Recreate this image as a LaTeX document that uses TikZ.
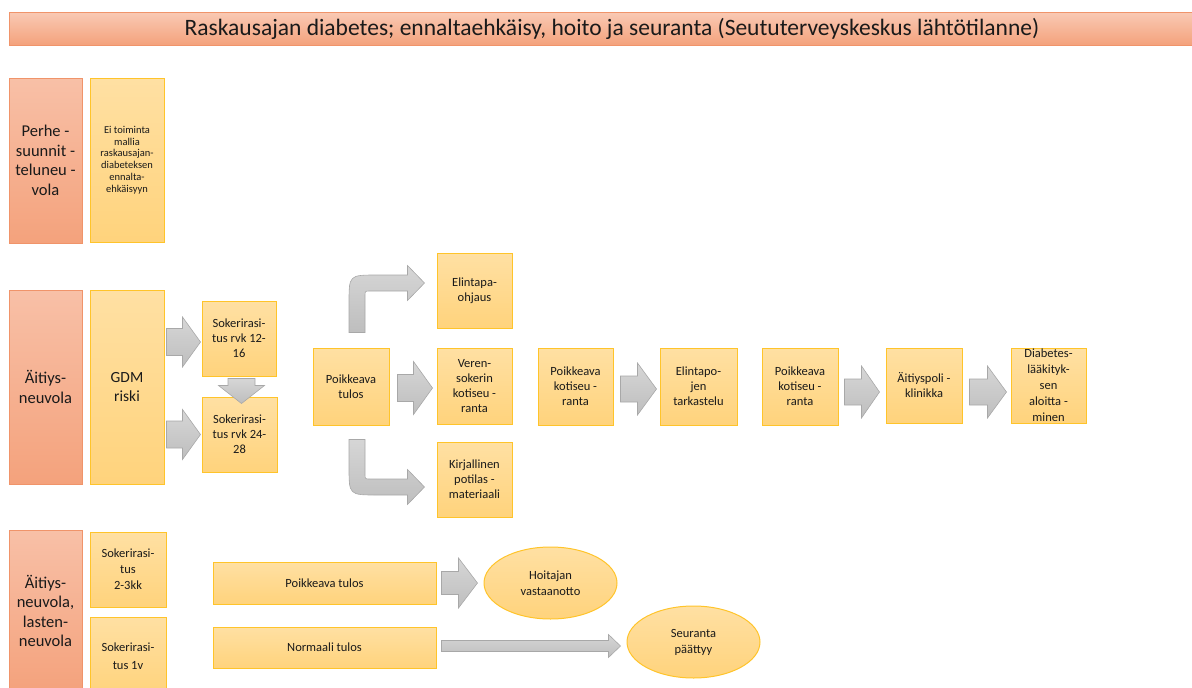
\documentclass[tikz,border=0pt]{standalone}
\usepackage{fontspec}
\setmainfont{Carlito}
\usetikzlibrary{calc,shapes.geometric}

\definecolor{redtop}{HTML}{F8C0A7}
\definecolor{redbot}{HTML}{F4A27C}
\definecolor{redline}{HTML}{F0946A}
\definecolor{ytop}{HTML}{FFE0A3}
\definecolor{ybot}{HTML}{FFD37C}
\definecolor{yline}{HTML}{FFC42A}
\definecolor{arrtop}{HTML}{D6D6D6}
\definecolor{arrbot}{HTML}{BEBEBE}
\definecolor{arrline}{HTML}{A8A8A8}
\definecolor{ink}{HTML}{1A1A1A}

% horizontal block arrow between two nodes:
% #1 from, #2 to, #3 left gap, #4 right gap, #5 vertical shift,
% #6 half shaft, #7 half head, #8 head length
\newcommand\flowarrow[8]{%
  \path[blockarrow] let \p1=(#1.east), \p2=(#2.west), \n1={\y2+(#5)} in
    (\x1+#3,\n1+#6) -- (\x2-#4-#8,\n1+#6) -- (\x2-#4-#8,\n1+#7) -- (\x2-#4,\n1)
    -- (\x2-#4-#8,\n1-#7) -- (\x2-#4-#8,\n1-#6) -- (\x1+#3,\n1-#6) -- cycle;}

\begin{document}
\begin{tikzpicture}[x=1pt,y=-1pt,
  box/.style={rectangle, inner sep=1pt, align=center, line width=1pt, text=ink},
  sz/.style 2 args={minimum width=#1pt, minimum height=#2pt},
  redbox/.style={box, draw=redline, top color=redtop, bottom color=redbot,
    font=\fontsize{16.5}{19.5}\selectfont},
  ybox/.style={box, draw=yline, top color=ytop, bottom color=ybot,
    font=\fontsize{12.5}{15}\selectfont},
  yoval/.style={ellipse, inner sep=0pt, align=center, line width=1pt, text=ink,
    draw=yline, top color=ytop, bottom color=ybot, minimum width=133pt,
    minimum height=72pt, font=\fontsize{12.5}{16}\selectfont},
  blockarrow/.style={draw=arrline, line width=0.6pt, top color=arrtop, bottom color=arrbot}]
\useasboundingbox (0,0) rectangle (1192,688);

% title bar
\node[box, draw=redline, top color=redtop!85!white, bottom color=redbot, sz={1206}{33},
  font=\fontsize{23.5}{26}\selectfont] (title) at (612,28.5)
  {Raskausajan diabetes; ennaltaehkäisy, hoito ja seuranta (Seututerveyskeskus lähtötilanne)};

% family planning row
\node[redbox, sz={73}{165}] (r1) at (45.5,160.5) {Perhe -\\suunnit -\\teluneu -\\vola};
\node[ybox, sz={74}{164}, font=\fontsize{10.5}{11.7}\selectfont] (y1) at (127,160)
  {Ei toiminta\\mallia\\raskausajan-\\diabeteksen\\ennalta-\\ehkäisyyn};

% maternity clinic row
\node[redbox, sz={73}{194}] (r2) at (45.5,387) {Äitiys-\\neuvola};
\node[ybox, sz={74}{194}, font=\fontsize{15.5}{19.5}\selectfont] (gdm) at (127,387) {GDM\\riski};
\node[ybox, sz={74}{75}] (s1) at (239,338.5) {Sokerirasi-\\tus rvk 12-\\16};
\node[ybox, sz={75}{75}] (s2) at (239.5,434.5) {Sokerirasi-\\tus rvk 24-\\28};
\node[ybox, sz={76}{77}] (poik) at (351,386.5) {Poikkeava\\tulos};
\node[ybox, sz={75}{75}] (elin) at (474.5,290.5) {Elintapa-\\ohjaus};
\node[ybox, sz={75}{76}] (veren) at (474.5,386) {Veren-\\sokerin\\kotiseu -\\ranta};
\node[ybox, sz={75}{75}] (kirj) at (474.5,479.5) {Kirjallinen\\potilas -\\materiaali};
\node[ybox, sz={75}{77}] (pk1) at (575.5,386.5) {Poikkeava\\kotiseu -\\ranta};
\node[ybox, sz={77}{77}] (elj) at (698.5,386.5) {Elintapo-\\jen\\tarkastelu};
\node[ybox, sz={76}{77}] (pk2) at (800,386.5) {Poikkeava\\kotiseu -\\ranta};
\node[ybox, sz={76}{75}] (apk) at (924,385.5) {Äitiyspoli -\\klinikka};
\node[ybox, sz={75}{75}, font=\fontsize{12.5}{16}\selectfont] (diab) at (1048.5,385.5)
  {Diabetes-\\lääkityk-\\sen\\aloitta -\\minen};

% follow-up row
\node[redbox, sz={73}{162}] (r3) at (45.5,611) {Äitiys-\\neuvola,\\lasten-\\neuvola};
\node[ybox, sz={76}{75}, font=\fontsize{12.5}{16}\selectfont] (s3) at (128,569.5) {Sokerirasi-\\tus\\2-3kk};
\node[ybox, sz={76}{78}, font=\fontsize{12.5}{18}\selectfont] (s4) at (128,656) {Sokerirasi-\\tus 1v};
\node[ybox, sz={223}{42}] (pt) at (324.5,583) {Poikkeava tulos};
\node[ybox, sz={223}{41}] (nt) at (324.5,647.5) {Normaali tulos};
\node[yoval] (hoit) at (550.5,583) {Hoitajan\\vastaanotto};
\node[yoval] (seur) at (693.5,642) {Seuranta\\päättyy};

% block arrows
\flowarrow{gdm}{s1}{2pt}{1pt}{-3.5pt}{13.5pt}{25pt}{18pt}
\flowarrow{gdm}{s2}{2pt}{1pt}{0pt}{13.5pt}{25pt}{18pt}
\flowarrow{poik}{veren}{8pt}{4pt}{-2pt}{13.5pt}{26.5pt}{19pt}
\flowarrow{pk1}{elj}{7pt}{3pt}{-2.5pt}{13pt}{26pt}{19pt}
\flowarrow{pk2}{apk}{6pt}{6pt}{-6.5pt}{13pt}{26pt}{18pt}
\flowarrow{apk}{diab}{7pt}{4pt}{-6.5pt}{13pt}{26pt}{19pt}
\flowarrow{pt}{hoit}{5pt}{6pt}{0pt}{11.5pt}{25pt}{19pt}
\flowarrow{nt}{seur}{5pt}{6pt}{-4pt}{5.5pt}{11.5pt}{12pt}

% downward arrow between the two glucose tests
\path[blockarrow] let \p1=(s1.south), \p2=(s2.north),
    \n1={\x1+2.5pt}, \n2={\y1-2pt}, \n3={\y2-7pt} in
  (\n1-13.5pt,\n2) -- (\n1+13.5pt,\n2) -- (\n1+13.5pt,\n3+18pt) -- (\n1+23pt,\n3+18pt)
  -- (\n1,\n3) -- (\n1-23pt,\n3+18pt) -- (\n1-13.5pt,\n3+18pt) -- cycle;

% bent arrow up to lifestyle guidance
\path[blockarrow] let \p1=(poik.north), \p2=(elin.west),
    \n1={\x1-2pt}, \n2={\x1+14pt}, \n3={\y1+15pt}, \n4={\y2+7.5pt},
    \n5={\x2-29pt}, \n6={\x2-12pt} in
  (\n1,\n3) -- (\n1,\n4-20pt) .. controls (\n1,\n4+8pt) .. (\n1+28pt,\n4+8pt)
  -- (\n5,\n4+8pt) -- (\n5,\n4+17.5pt) -- (\n6,\n4) -- (\n5,\n4-17.5pt) -- (\n5,\n4-8pt)
  -- (\n2+5pt,\n4-8pt) .. controls (\n2,\n4-8pt) .. (\n2,\n4-13pt) -- (\n2,\n3) -- cycle;

% bent arrow down to written material
\path[blockarrow] let \p1=(poik.south), \p2=(kirj.west),
    \n1={\x1-2pt}, \n2={\x1+14pt}, \n3={\y1-14pt}, \n4={\y2-7.5pt},
    \n5={\x2-29pt}, \n6={\x2-12pt} in
  (\n1,\n3) -- (\n1,\n4+20pt) .. controls (\n1,\n4-8pt) .. (\n1+28pt,\n4-8pt)
  -- (\n5,\n4-8pt) -- (\n5,\n4-17.5pt) -- (\n6,\n4) -- (\n5,\n4+17.5pt) -- (\n5,\n4+8pt)
  -- (\n2+5pt,\n4+8pt) .. controls (\n2,\n4+8pt) .. (\n2,\n4+13pt) -- (\n2,\n3) -- cycle;
\end{tikzpicture}
\end{document}
